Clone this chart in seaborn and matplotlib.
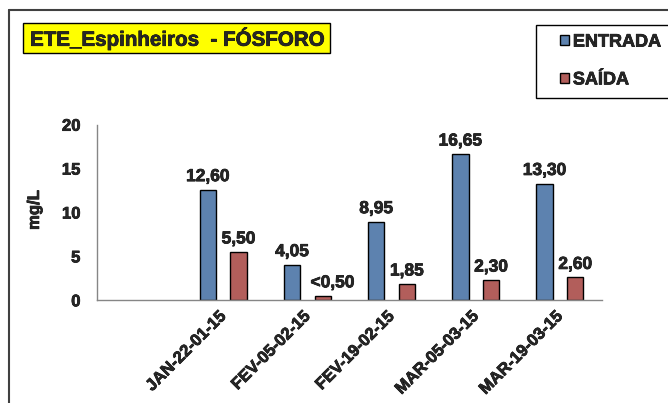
import numpy as np
import pandas as pd
import matplotlib
matplotlib.use("Agg")
import matplotlib.pyplot as plt
import matplotlib.patheffects as pe
from matplotlib.patches import Rectangle
from matplotlib.lines import Line2D
import seaborn as sns

# dados (mg/L)
datas = [' ', 'JAN-22-01-15', 'FEV-05-02-15', 'FEV-19-02-15', 'MAR-05-03-15', 'MAR-19-03-15']
entrada = [np.nan, 12.60, 4.05, 8.95, 16.65, 13.30]
saida = [np.nan, 5.50, 0.50, 1.85, 2.30, 2.60]
rotulos_entrada = ['12,60', '4,05', '8,95', '16,65', '13,30']
rotulos_saida = ['5,50', '<0,50', '1,85', '2,30', '2,60']
series = ['ENTRADA', 'SAÍDA']
cores = ['#4F81BD', '#C0504D']

sns.set_style("white")
plt.rcParams['font.family'] = ['Liberation Sans', 'DejaVu Sans']
plt.rcParams['font.weight'] = 'bold'

df = pd.DataFrame({
    'data': datas * 2,
    'valor': entrada + saida,
    'serie': [series[0]] * len(datas) + [series[1]] * len(datas),
})

W, H = 668, 403
fx = lambda x: x / W
fy = lambda y: 1 - y / H
negrito = [pe.withStroke(linewidth=0.5, foreground='black')]

fig = plt.figure(figsize=(W / 100, H / 100), dpi=100)
ax = fig.add_axes([fx(97), fy(300.3), (602 - 97) / W, 175.6 / H])

sns.barplot(data=df, x='data', y='valor', hue='serie', order=datas, hue_order=series,
            palette=cores, width=0.73, gap=0.466, edgecolor='black', linewidth=1,
            ax=ax)

for cont, rot in zip(ax.containers, [rotulos_entrada, rotulos_saida]):
    txts = ax.bar_label(cont, labels=rot, padding=4, fontsize=12.5, fontweight='bold')
    for t in txts:
        t.set_path_effects(negrito)
        if t.get_text().startswith('<'):
            # o Excel desloca este rotulo um pouco para a direita
            t.xyann = (t.xyann[0] + 7, t.xyann[1])

cinza = '#868686'
ax.set_ylim(0, 20)
ax.set_xlim(-0.5, len(datas) - 0.5)
ax.set_yticks([0, 5, 10, 15, 20])
ax.set_xticks(range(len(datas)))
ax.set_xticks(np.arange(-0.5, len(datas), 1), minor=True)
ax.set_xticklabels(['' if d.strip() == '' else d for d in datas], rotation=45,
                   ha='right', va='center', rotation_mode='anchor')
ax.tick_params(axis='x', which='major', length=0, pad=10, labelsize=12)
ax.tick_params(axis='x', which='minor', length=4, color=cinza, width=1, direction='out')
ax.tick_params(axis='y', length=4, color=cinza, width=1, direction='out', pad=8, labelsize=12)
for lab in ax.get_xticklabels() + ax.get_yticklabels():
    lab.set_fontweight('bold')
    lab.set_path_effects(negrito)
ax.set_xlabel('')
ax.set_ylabel('mg/L', fontsize=12, fontweight='bold', path_effects=negrito)
ax.yaxis.set_label_coords(-0.109, 0.514)
for s in ['top', 'right']:
    ax.spines[s].set_visible(False)
for s in ['left', 'bottom']:
    ax.spines[s].set_color(cinza)
    ax.spines[s].set_linewidth(1)

# legenda
handles, labels = ax.get_legend_handles_labels()
ax.legend_.remove()
fig.patches.append(Rectangle((fx(536), fy(98)), (700 - 536) / W, (98 - 25) / H,
                             transform=fig.transFigure, facecolor='white',
                             edgecolor='black', linewidth=1))
leg = fig.legend(handles, labels, loc='center left', bbox_to_anchor=(fx(553), fy(61)),
                 frameon=False, handlelength=0.5, handleheight=0.5, handletextpad=0.2,
                 labelspacing=1.15, borderaxespad=0, prop={'size': 13, 'weight': 'bold'})
for t in leg.get_texts():
    t.set_path_effects(negrito)

# titulo
fig.patches.append(Rectangle((fx(23), fy(53)), (330 - 23) / W, (53 - 23) / H,
                             transform=fig.transFigure, facecolor='#FFFF00',
                             edgecolor='black', linewidth=1))
fig.text(fx(30), fy(38.5), 'ETE_Espinheiros  - FÓSFORO', fontsize=14.8, fontweight='bold',
         ha='left', va='center', path_effects=negrito)

# moldura da area do grafico
fig.lines.append(Line2D([fx(9), fx(9)], [fy(10), 0], transform=fig.transFigure,
                        color='#404040', linewidth=1.5))
fig.lines.append(Line2D([fx(9), 1], [fy(10), fy(10)], transform=fig.transFigure,
                        color='#404040', linewidth=1.5))

fig.savefig('out.png', dpi=100)
